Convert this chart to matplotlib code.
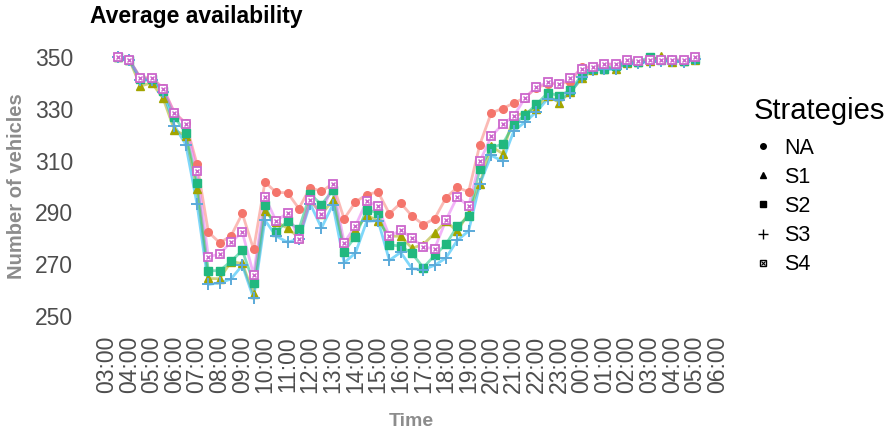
import numpy as np
import pandas as pd
import matplotlib
matplotlib.use("Agg")
import matplotlib.pyplot as plt
import matplotlib.dates as mdates
from matplotlib.lines import Line2D
from matplotlib.legend_handler import HandlerTuple

plt.rcParams["font.family"] = ["Liberation Sans", "DejaVu Sans"]

# -----------------------------
#  Data
# -----------------------------
times = pd.date_range("2020-01-01 03:30", periods=52, freq="30min")
hour_ticks = pd.date_range("2020-01-01 03:00", "2020-01-02 06:00", freq="h")

na = [350, 349, 342, 342, 338, 328.5, 324.5, 308.6, 282.4, 278.3,
      280.9, 289.6, 275.7, 301.7, 297.7, 297.6, 291.5, 299.6, 298.1, 301.1,
      287.5, 294.0, 296.9, 297.9, 289.5, 293.6, 288.6, 285.3, 287.6, 295.6,
      299.7, 297.9, 316.2, 328.4, 330.1, 332.2, 334.3, 338.2, 339.5, 339.7,
      340.4, 346.1, 346.1, 347.1, 347.2, 348.6, 348.5, 348.7, 348.8, 349.0,
      348.7, 349.6]
s1 = [350, 349, 338.8, 340, 334, 321.8, 319.6, 298.9, 264.5, 264.4,
      271.0, 270.3, 258.5, 290.4, 286.3, 283.9, 280.3, 294.9, 289.2, 294.7,
      276.4, 283.1, 288.9, 286.8, 280.8, 280.8, 276.2, 277.6, 282.0, 286.6,
      282.7, 289.8, 301.1, 315.5, 312.7, 327.3, 328.4, 330.1, 335.0, 332.4,
      336.5, 341.7, 344.8, 345.5, 345.5, 347.7, 348.0, 348.5, 350.3, 348.0,
      348.5, 349.0]
s2 = [350, 349, 341.5, 341.5, 337, 326.8, 320.8, 301.5, 267.5, 267.5,
      271.1, 275.3, 262.9, 293.0, 282.6, 286.6, 283.5, 297.0, 293.0, 298.5,
      274.9, 280.7, 291.1, 289.8, 277.6, 276.9, 274.2, 268.7, 273.4, 277.7,
      284.6, 288.5, 306.9, 315.0, 316.3, 324.0, 327.6, 331.7, 336.1, 335.1,
      337.1, 342.9, 345.5, 345.5, 346.6, 348.1, 348.0, 350.0, 349.0, 348.7,
      348.5, 349.3]
s3 = [350, 349, 341, 341, 336.3, 323.4, 316.2, 293.2, 262.2, 262.8,
      264.3, 269.6, 256.8, 287.0, 280.8, 278.5, 279.7, 293.4, 284.0, 293.0,
      270.6, 274.3, 286.6, 286.8, 271.5, 274.6, 268.3, 267.9, 269.6, 272.4,
      279.2, 282.8, 301.0, 312.0, 309.8, 321.4, 324.9, 328.8, 333.9, 333.3,
      336.1, 342.2, 345.0, 345.2, 345.2, 347.4, 347.8, 348.0, 348.5, 348.3,
      348.2, 349.3]
s4 = [350, 349, 341.7, 341.9, 337.8, 328.4, 324.2, 306.0, 272.8, 274.0,
      278.5, 282.4, 266.0, 296.0, 286.6, 289.9, 279.7, 294.9, 289.2, 301.1,
      278.3, 284.8, 294.4, 292.3, 280.8, 283.1, 280.1, 276.6, 276.0, 287.0,
      296.0, 292.4, 309.7, 319.3, 324.0, 327.2, 334.3, 338.5, 340.2, 339.7,
      341.7, 345.5, 346.1, 347.4, 347.2, 348.7, 348.5, 348.7, 348.8, 349.0,
      348.7, 349.8]

strategies = ["NA", "S1", "S2", "S3", "S4"]
series = [na, s1, s2, s3, s4]
colors = ["#F8766D", "#A3A500", "#00BF7D", "#00B0F6", "#E76BF3"]
point_colors = ["#F4756C", "#A3A500", "#21B87F", "#5BAAD9", "#CC66CC"]
markers = ["o", "^", "s", "+", "s"]

# -----------------------------
#  Figure
# -----------------------------
fig = plt.figure(figsize=(8.96, 4.32), dpi=100)
ax = fig.add_axes([76 / 896, 103 / 432, 672 / 896, 285 / 432])

for y, c in zip(series, colors):
    ax.plot(times, y, color=c, lw=2, alpha=0.5, zorder=2)

for name, y, c, m in zip(strategies, series, point_colors, markers):
    if name == "S4":
        ax.plot(times, y, ls="none", marker="s", ms=5.5, mfc="white", mec=c,
                mew=1.3, zorder=3)
        ax.plot(times, y, ls="none", marker="x", ms=3.5, mec=c, mew=1.0, zorder=3)
    elif m == "+":
        ax.plot(times, y, ls="none", marker="+", ms=8, mec=c, mew=1.4, zorder=3)
    else:
        ax.plot(times, y, ls="none", marker=m, ms=5.5, color=c, zorder=3)

ax.set_xlim(hour_ticks[0] - pd.Timedelta(minutes=81),
            hour_ticks[-1] + pd.Timedelta(minutes=81))
ax.set_ylim(245, 355)
ax.set_xticks(hour_ticks)
ax.xaxis.set_major_formatter(mdates.DateFormatter("%H:%M"))
ax.set_yticks([250, 270, 290, 310, 330, 350])
ax.tick_params(axis="x", labelrotation=90, length=0, labelsize=16.5,
               labelcolor="#4D4D4D", pad=5)
ax.tick_params(axis="y", length=0, labelsize=16.5, labelcolor="#4D4D4D", pad=2)
for s in ax.spines.values():
    s.set_visible(False)

fig.text(90 / 896, 1 - 16 / 432, "Average availability", fontsize=16.5,
         fontweight="bold", ha="left", va="center", color="black")
fig.text(17 / 896, 1 - 186 / 432, "Number of vehicles", fontsize=14.5,
         fontweight="bold", rotation=90, ha="center", va="center",
         color="#8C8C8C")
fig.text(411 / 896, 1 - 421 / 432, "Time", fontsize=14, fontweight="bold",
         ha="center", va="center", color="#8C8C8C")

handles = [Line2D([], [], ls="none", marker="o", color="black", ms=4),
           Line2D([], [], ls="none", marker="^", color="black", ms=4),
           Line2D([], [], ls="none", marker="s", color="black", ms=4),
           Line2D([], [], ls="none", marker="+", color="black", ms=7, mew=1),
           (Line2D([], [], ls="none", marker="s", mfc="white", mec="black",
                   ms=4.5, mew=1),
            Line2D([], [], ls="none", marker="x", color="black", ms=3, mew=0.8))]
leg = fig.legend(handles, strategies, title="Strategies", loc="upper left",
                 bbox_to_anchor=(754 / 896, 1 - 97 / 432), frameon=False,
                 fontsize=15.5, title_fontsize=21, handlelength=0.8,
                 handletextpad=0.6, labelspacing=0.38, borderpad=0,
                 borderaxespad=0, alignment="left",
                 handler_map={tuple: HandlerTuple(ndivide=1, pad=0)})
leg._legend_box.sep = 9

fig.savefig("out.png", dpi=100)
